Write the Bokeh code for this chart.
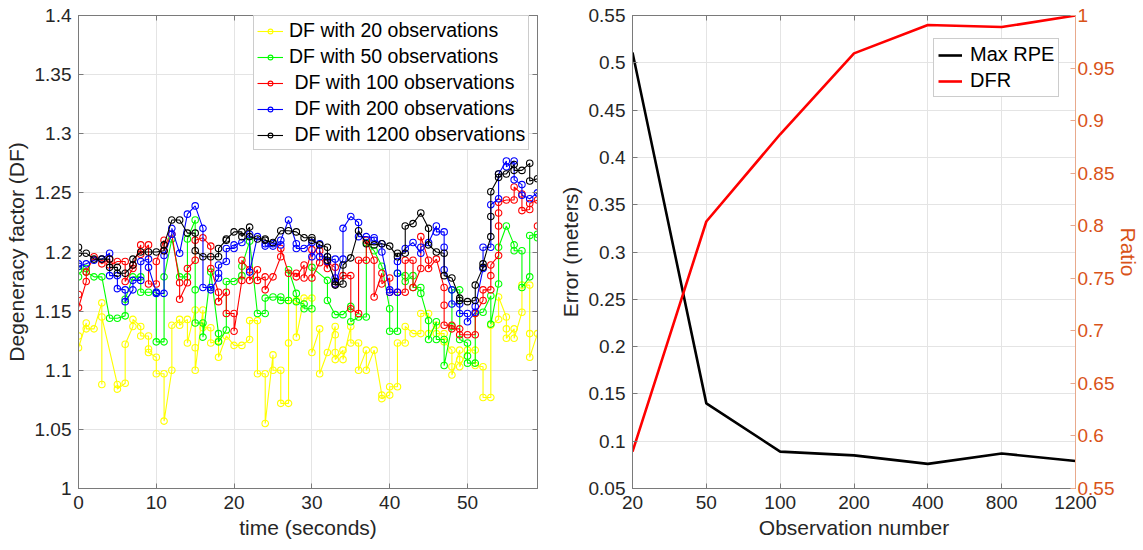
from bokeh.plotting import figure
from bokeh.models import (Range1d, LinearAxis, FixedTicker, CustomJSTickFormatter,
                          Legend, LegendItem)
from bokeh.layouts import row
from bokeh.embed import file_html
from bokeh.resources import INLINE

FONT = "Liberation Sans"
TXT = "#262626"
AXC = "#7a7a7a"
GRID = "#e4e4e4"
ORANGE = "#D95319"

# ---------------- left panel data: (second, value, value, ...) ----------------
obs20 = [(0, 1.129, 1.119), (1, 1.140, 1.135), (2, 1.135), (3, 1.157, 1.088, 1.145),
         (5, 1.088, 1.084), (6, 1.089, 1.122), (7, 1.137, 1.143), (8, 1.137, 1.129),
         (9, 1.129, 1.118, 1.115), (10, 1.111, 1.097), (11, 1.097, 1.057), (12, 1.100, 1.138),
         (13, 1.143, 1.138), (14, 1.143, 1.123), (15, 1.151, 1.119, 1.100), (16, 1.151, 1.136),
         (17, 1.136, 1.123), (18, 1.125, 1.111), (19, 1.129), (20, 1.121), (21, 1.121),
         (22, 1.126, 1.142), (23, 1.142, 1.097), (24, 1.097, 1.055), (25, 1.113, 1.100),
         (26, 1.100, 1.072), (27, 1.072, 1.123, 1.159), (28, 1.159, 1.128), (29, 1.161),
         (30, 1.161, 1.115), (31, 1.135, 1.097), (32, 1.115), (33, 1.137, 1.115, 1.130, 1.109),
         (34, 1.117, 1.109), (35, 1.137, 1.123), (36, 1.123, 1.100), (37, 1.117, 1.100),
         (38, 1.117), (39, 1.079, 1.076), (40, 1.079, 1.086), (41, 1.086, 1.123),
         (42, 1.123, 1.137), (43, 1.131), (44, 1.131, 1.148), (45, 1.148, 1.131),
         (46, 1.138, 1.131), (47, 1.131, 1.124), (48, 1.117, 1.103, 1.096),
         (49, 1.117, 1.109, 1.103), (50, 1.117), (51, 1.117, 1.104), (52, 1.103, 1.077),
         (53, 1.077, 1.138), (54, 1.143, 1.162), (55, 1.145, 1.135, 1.127), (56, 1.135, 1.127),
         (57, 1.149, 1.172), (58, 1.172, 1.131, 1.111), (59, 1.131)]

obs50 = [(0, 1.179, 1.185), (1, 1.186, 1.183), (2, 1.179), (3, 1.179), (4, 1.144), (5, 1.144),
         (6, 1.146, 1.160), (7, 1.179), (8, 1.179, 1.166), (9, 1.166), (10, 1.166, 1.124),
         (11, 1.124, 1.179), (12, 1.211), (13, 1.179), (14, 1.179, 1.211),
         (15, 1.227, 1.168, 1.140), (16, 1.140, 1.128), (17, 1.183), (18, 1.131, 1.124),
         (19, 1.134, 1.175), (20, 1.175), (21, 1.180, 1.188), (22, 1.209), (23, 1.148),
         (24, 1.148, 1.161), (25, 1.162), (26, 1.162, 1.159), (27, 1.159, 1.185),
         (28, 1.165, 1.158), (29, 1.156, 1.152), (30, 1.152, 1.187), (32, 1.176, 1.159),
         (33, 1.147), (34, 1.147), (35, 1.154, 1.141), (36, 1.145), (37, 1.145, 1.208),
         (38, 1.201), (39, 1.188), (40, 1.152, 1.133), (41, 1.133, 1.182), (42, 1.180, 1.175),
         (43, 1.180, 1.170), (44, 1.170, 1.165), (45, 1.142, 1.126), (46, 1.141, 1.126),
         (47, 1.126, 1.104), (48, 1.137, 1.168), (49, 1.168, 1.126), (50, 1.123, 1.112, 1.106),
         (51, 1.106, 1.148), (52, 1.149), (53, 1.163, 1.139), (54, 1.173, 1.204), (55, 1.222),
         (56, 1.206, 1.201), (57, 1.201, 1.170), (58, 1.179, 1.214), (59, 1.215, 1.212)]

obs100 = [(0, 1.164, 1.153), (1, 1.175, 1.183), (2, 1.196), (3, 1.190), (4, 1.194, 1.189),
          (5, 1.192), (6, 1.192, 1.175), (7, 1.186, 1.189), (8, 1.206, 1.198), (9, 1.206, 1.173),
          (10, 1.173, 1.192), (11, 1.210, 1.201), (12, 1.215), (13, 1.174, 1.160),
          (14, 1.174, 1.186), (15, 1.193, 1.210), (16, 1.212), (17, 1.205, 1.186),
          (18, 1.166, 1.158), (19, 1.166, 1.148), (20, 1.148, 1.133), (21, 1.176, 1.193),
          (22, 1.185, 1.176), (23, 1.185, 1.176), (24, 1.179, 1.168), (25, 1.179),
          (26, 1.196, 1.203), (27, 1.182), (28, 1.182, 1.179), (29, 1.189, 1.178),
          (30, 1.202, 1.178), (31, 1.191, 1.201), (32, 1.186, 1.191), (33, 1.187, 1.173),
          (34, 1.180), (35, 1.180, 1.152), (36, 1.148, 1.193), (37, 1.193, 1.210),
          (38, 1.193, 1.162), (39, 1.182, 1.173), (40, 1.178, 1.166), (41, 1.166),
          (42, 1.166, 1.193), (43, 1.193, 1.170), (44, 1.186, 1.213), (45, 1.193, 1.186),
          (46, 1.194), (47, 1.170, 1.155, 1.138), (48, 1.138, 1.135), (49, 1.135, 1.130),
          (50, 1.130), (51, 1.130, 1.148), (52, 1.159, 1.168), (53, 1.168, 1.180, 1.189),
          (54, 1.197, 1.222, 1.233, 1.242), (55, 1.244), (56, 1.244, 1.255), (57, 1.249, 1.235),
          (58, 1.236, 1.241), (59, 1.244, 1.222)]

obs200 = [(0, 1.190, 1.188), (1, 1.190), (2, 1.193), (3, 1.194), (4, 1.199, 1.180),
          (5, 1.180, 1.169), (6, 1.168, 1.158), (7, 1.168, 1.176), (8, 1.176, 1.192),
          (9, 1.194, 1.187), (10, 1.166, 1.165), (11, 1.165, 1.197), (12, 1.215, 1.220),
          (13, 1.199), (14, 1.232), (15, 1.239), (16, 1.220, 1.170), (17, 1.170, 1.168),
          (18, 1.178, 1.182, 1.189), (19, 1.192, 1.203), (20, 1.203, 1.206), (21, 1.208),
          (22, 1.215, 1.183), (23, 1.213), (24, 1.207, 1.205), (25, 1.205, 1.207),
          (26, 1.206, 1.210), (27, 1.227), (28, 1.207, 1.203), (29, 1.203), (30, 1.208, 1.196),
          (31, 1.207, 1.196), (32, 1.196, 1.192), (33, 1.194, 1.178, 1.173), (34, 1.194, 1.220),
          (35, 1.230), (36, 1.225, 1.213), (37, 1.213), (38, 1.212, 1.210), (39, 1.207, 1.200),
          (40, 1.168, 1.166), (41, 1.166, 1.182, 1.192), (42, 1.203), (43, 1.208),
          (44, 1.199, 1.204), (45, 1.208), (46, 1.222, 1.217), (47, 1.217, 1.204, 1.185),
          (48, 1.168, 1.156), (49, 1.156, 1.148), (50, 1.148, 1.141), (51, 1.149, 1.154),
          (52, 1.186, 1.204), (53, 1.204, 1.240), (54, 1.245, 1.266), (55, 1.277, 1.272),
          (56, 1.277, 1.261), (57, 1.257, 1.248), (58, 1.245), (59, 1.250)]

obs1200 = [(0, 1.204, 1.199), (1, 1.199), (2, 1.194), (3, 1.194), (4, 1.194, 1.187),
           (5, 1.187, 1.182), (6, 1.182), (7, 1.189, 1.194), (8, 1.200), (9, 1.200), (10, 1.200),
           (11, 1.201, 1.206), (12, 1.227), (13, 1.227), (14, 1.216), (15, 1.216, 1.201),
           (16, 1.196), (17, 1.196), (18, 1.196, 1.203), (19, 1.210, 1.211), (20, 1.217),
           (21, 1.217, 1.213), (22, 1.221, 1.213), (23, 1.211), (24, 1.211, 1.210), (25, 1.208),
           (26, 1.218), (27, 1.218), (28, 1.217), (29, 1.212), (30, 1.212, 1.210), (31, 1.206),
           (32, 1.204, 1.196, 1.193), (33, 1.175, 1.172), (34, 1.173, 1.189), (35, 1.195),
           (36, 1.218), (37, 1.207), (38, 1.206), (39, 1.207), (40, 1.205), (41, 1.196, 1.199),
           (42, 1.199, 1.222), (43, 1.224), (44, 1.233), (45, 1.220, 1.206), (46, 1.200),
           (47, 1.199, 1.180), (48, 1.178), (49, 1.161, 1.159), (50, 1.158), (51, 1.159, 1.172),
           (52, 1.187, 1.190), (53, 1.213, 1.230, 1.251), (54, 1.263, 1.266), (55, 1.266),
           (56, 1.274, 1.269), (57, 1.269), (58, 1.275, 1.260), (59, 1.262)]

series_labels = ["DF with 20 observations", "DF with 50 observations",
                 " DF with 100 observations", " DF with 200 observations",
                 " DF with 1200 observations"]
series_colors = ["#FFFF00", "#00FF00", "#FF0000", "#0000FF", "#000000"]

left_x_ticks = [0, 10, 20, 30, 40, 50]
left_y_ticks = [1.0, 1.05, 1.1, 1.15, 1.2, 1.25, 1.3, 1.35, 1.4]

# ---------------- right panel data ----------------
obs_labels = ["20", "50", "100", "200", "400", "800", "1200"]
max_rpe = [0.511, 0.140, 0.089, 0.085, 0.076, 0.087, 0.079]
dfr = [0.585, 0.804, 0.887, 0.964, 0.991, 0.989, 1.000]
right_y_ticks = [0.05, 0.1, 0.15, 0.2, 0.25, 0.3, 0.35, 0.4, 0.45, 0.5, 0.55]
ratio_ticks = [0.55, 0.6, 0.65, 0.7, 0.75, 0.8, 0.85, 0.9, 0.95, 1.0]

TICK_FS = "19px"
LABEL_FS = "21px"
LEG_FS = "19.5px"


def flatten(obs):
    t, v = [], []
    for rec in obs:
        for val in rec[1:]:
            t.append(rec[0])
            v.append(val)
    return t, v


num_fmt = CustomJSTickFormatter(code=r"return tick.toFixed(2).replace(/\.?0+$/, '');")


def style_axis(ax, color=TXT, line=AXC):
    ax.axis_line_color = line
    ax.major_tick_line_color = line
    ax.minor_tick_line_color = None
    ax.major_tick_in = 5
    ax.major_tick_out = 0
    ax.major_label_text_font = FONT
    ax.major_label_text_font_size = TICK_FS
    ax.major_label_text_color = color
    ax.axis_label_text_font = FONT
    ax.axis_label_text_font_size = LABEL_FS
    ax.axis_label_text_font_style = "normal"
    ax.axis_label_text_color = color


def mirror_axis(ticks, **kw):
    ax = LinearAxis(ticker=FixedTicker(ticks=ticks), **kw)
    ax.axis_line_color = AXC
    ax.major_tick_line_color = AXC
    ax.minor_tick_line_color = None
    ax.major_tick_in = 5
    ax.major_tick_out = 0
    ax.major_label_text_font_size = "1px"
    ax.major_label_text_alpha = 0
    ax.major_label_standoff = 0
    return ax


# ---------------- left figure ----------------
p1 = figure(width=555, height=550, x_range=Range1d(0, 59), y_range=Range1d(1.0, 1.4),
            output_backend="svg", toolbar_location=None,
            min_border_left=78, min_border_right=18, min_border_top=15, min_border_bottom=62)
p1.outline_line_color = AXC
p1.background_fill_color = "white"
p1.border_fill_color = "white"
p1.xaxis.ticker = FixedTicker(ticks=left_x_ticks)
p1.yaxis.ticker = FixedTicker(ticks=left_y_ticks)
p1.yaxis.formatter = num_fmt
p1.xaxis.axis_label = "time (seconds)"
p1.yaxis.axis_label = "Degeneracy factor (DF)"
style_axis(p1.xaxis[0])
style_axis(p1.yaxis[0])
p1.xaxis.major_label_standoff = 7
p1.yaxis.major_label_standoff = 7
p1.xaxis.axis_label_standoff = 4
p1.yaxis.axis_label_standoff = 4
p1.grid.grid_line_color = GRID
p1.xgrid.ticker = FixedTicker(ticks=left_x_ticks)
p1.ygrid.ticker = FixedTicker(ticks=left_y_ticks)
p1.add_layout(mirror_axis(left_y_ticks), "right")
p1.add_layout(mirror_axis(left_x_ticks), "above")

items = []
for obs, lab, col in zip([obs20, obs50, obs100, obs200, obs1200], series_labels, series_colors):
    t, v = flatten(obs)
    lr = p1.line(t, v, line_color=col, line_width=1.1)
    sr = p1.scatter(t, v, marker="circle", size=6.5, fill_color=None, line_color=col, line_width=1.1)
    items.append(LegendItem(label=lab, renderers=[lr, sr]))

leg1 = Legend(items=items, location=(175, 338))
leg1.label_text_font = FONT
leg1.label_text_font_size = LEG_FS
leg1.label_text_color = "black"
leg1.glyph_width = 26
leg1.glyph_height = 12
leg1.label_height = 22
leg1.spacing = 3
leg1.padding = 3
leg1.margin = 0
leg1.label_standoff = 6
leg1.border_line_color = "#9a9a9a"
leg1.background_fill_alpha = 1
p1.add_layout(leg1)

# ---------------- right figure ----------------
xs = list(range(len(obs_labels)))
p2 = figure(width=588, height=550, x_range=Range1d(0, len(obs_labels) - 1),
            y_range=Range1d(0.05, 0.55), output_backend="svg", toolbar_location=None,
            min_border_left=10, min_border_right=5, min_border_top=15, min_border_bottom=62)
p2.extra_y_ranges = {"ratio": Range1d(0.55, 1.0)}
p2.outline_line_color = AXC
p2.background_fill_color = "white"
p2.border_fill_color = "white"
p2.xaxis.ticker = FixedTicker(ticks=xs)
p2.xaxis.formatter = CustomJSTickFormatter(args=dict(labels=obs_labels),
                                           code="return labels[Math.round(tick)];")
p2.yaxis.ticker = FixedTicker(ticks=right_y_ticks)
p2.yaxis.formatter = num_fmt
p2.xaxis.axis_label = "Observation number"
p2.yaxis.axis_label = "Error (meters)"
style_axis(p2.xaxis[0])
style_axis(p2.yaxis[0])
p2.xaxis.major_label_standoff = 7
p2.yaxis.major_label_standoff = 7
p2.xaxis.axis_label_standoff = 4
p2.yaxis.axis_label_standoff = 4
p2.grid.grid_line_color = GRID
p2.xgrid.ticker = FixedTicker(ticks=xs)
p2.ygrid.ticker = FixedTicker(ticks=right_y_ticks)
p2.add_layout(mirror_axis(xs), "above")

rax = LinearAxis(y_range_name="ratio", axis_label="Ratio",
                 ticker=FixedTicker(ticks=ratio_ticks), formatter=num_fmt)
style_axis(rax, color=ORANGE, line="#e8a98c")
rax.major_label_standoff = 2
rax.axis_label_standoff = 0
p2.add_layout(rax, "right")

r_black = p2.line(xs, max_rpe, line_color="black", line_width=2.6)
r_red = p2.line(xs, dfr, line_color="#FF0000", line_width=2.6, y_range_name="ratio")

leg2 = Legend(items=[LegendItem(label="Max RPE", renderers=[r_black]),
                     LegendItem(label="DFR", renderers=[r_red])],
              location=(301, 391))
leg2.label_text_font = FONT
leg2.label_text_font_size = "20px"
leg2.label_text_color = "black"
leg2.glyph_width = 24
leg2.glyph_height = 20
leg2.label_height = 22
leg2.spacing = 3
leg2.padding = 4
leg2.margin = 0
leg2.label_standoff = 8
leg2.border_line_color = "#9a9a9a"
p2.add_layout(leg2)

layout = row(p1, p2)
open("out.html", "w").write(file_html(layout, INLINE))
